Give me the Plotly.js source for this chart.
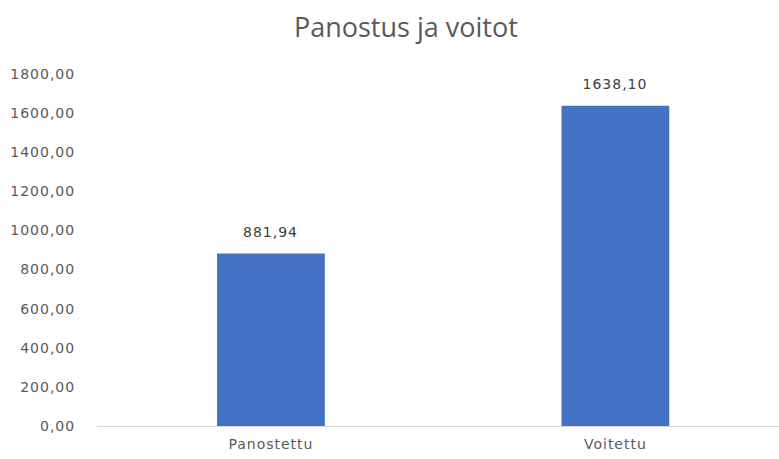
<!DOCTYPE html>
<html>
<head>
<meta charset="utf-8">
<script src="https://cdn.plot.ly/plotly-3.0.1.min.js"></script>
<style>
html,body{margin:0;padding:0;background:#fff;}
#chart{width:779px;height:459px;}
#chart .xtick text, #chart .ytick text, #chart .annotation-text{letter-spacing:1px;}
</style>
</head>
<body>
<div id="chart"></div>
<script>
const categories = ["Panostettu", "Voitettu"];
const values = [881.94, 1638.10];
const yTicks = [0, 200, 400, 600, 800, 1000, 1200, 1400, 1600, 1800];

const labelFont = "DejaVu Sans, sans-serif";

const trace = {
  type: "bar",
  x: categories,
  y: values,
  width: 0.313,
  marker: {color: "#4472C4"},
  hoverinfo: "none"
};

const annotations = categories.map((c, i) => ({
  x: c,
  y: values[i],
  xref: "x",
  yref: "y",
  text: values[i].toFixed(2).replace(".", ","),
  showarrow: false,
  yanchor: "middle",
  xanchor: "center",
  yshift: 22,
  font: {family: labelFont, size: 14, color: "#404040"}
}));

const layout = {
  width: 779,
  height: 459,
  separators: ", ",
  paper_bgcolor: "#ffffff",
  plot_bgcolor: "#ffffff",
  margin: {l: 97, r: 0, t: 74, b: 33},
  showlegend: false,
  title: {
    text: "Panostus ja voitot",
    x: 0.521, xref: "container", xanchor: "center",
    y: 0.94, yref: "container", yanchor: "middle",
    font: {family: "Open Sans, sans-serif", size: 27, color: "#595959"}
  },
  xaxis: {
    type: "category",
    range: [-0.505, 1.475],
    showgrid: false,
    showline: true,
    linecolor: "#d9d9d9",
    linewidth: 1,
    ticks: "outside",
    ticklen: 5,
    tickcolor: "rgba(0,0,0,0)",
    tickfont: {family: labelFont, size: 14, color: "#595959"},
    zeroline: false
  },
  yaxis: {
    range: [0, 1800],
    tickvals: yTicks,
    tickformat: ".2f",
    showgrid: false,
    zeroline: false,
    showline: false,
    ticks: "outside",
    ticklen: 18,
    tickcolor: "rgba(0,0,0,0)",
    tickfont: {family: labelFont, size: 14, color: "#595959"}
  },
  annotations: annotations
};

Plotly.newPlot("chart", [trace], layout, {staticPlot: true, displayModeBar: false});
</script>
</body>
</html>
